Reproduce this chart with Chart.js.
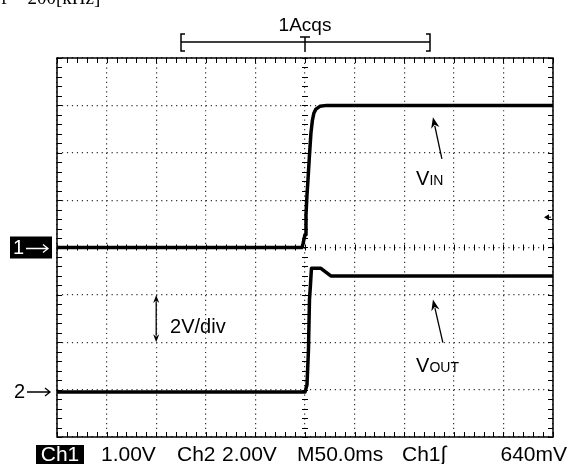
<!DOCTYPE html>
<html>
<head>
<meta charset="utf-8">
<script src="https://cdn.jsdelivr.net/npm/chart.js@4.4.0/dist/chart.umd.min.js"></script>
<style>
  html, body { margin: 0; padding: 0; background: #fff; }
  #wrap { width: 570px; height: 464px; position: relative; }
</style>
</head>
<body>
<div id="wrap"><canvas id="scope" width="570" height="464"></canvas></div>
<script>
// Time base: milliseconds relative to the trigger point, 50 ms/div, 10 divisions
const msPerDiv = 50;
const timeMin = -250;
const timeMax = 250;

// Channel 1 (V_IN), 1.00 V/div, ground at the centre line
const ch1Time  = [-250, -3, -2, 0, 1, 2, 3, 4.5, 6, 7.5, 9, 11, 15, 22, 250];
const ch1Volts = [0, 0, 0.08, 0.27, 0.69, 1.11, 1.42, 1.95, 2.42, 2.69, 2.84, 2.92, 2.98, 3.0, 3.0];

// Channel 2 (V_OUT), 2.00 V/div, ground marker about three divisions below centre
const ch2Time  = [-250, 0, 2, 3.5, 4.5, 5.5, 6.5, 16, 26, 250];
const ch2Volts = [0, 0, 0.3, 1.78, 3.89, 4.52, 5.22, 5.22, 4.9, 4.9];

const ch1VoltsPerDiv = 1.0;
const ch2VoltsPerDiv = 2.0;
const ch1GroundDiv = 0;
const ch2GroundDiv = -3.05;
const triggerLevel = 0.64;   // volts on Ch1

// Readout line under the graticule
const readoutItems = [
  { text: '1.00V',   x: 101, align: 'left' },
  { text: 'Ch2',     x: 177, align: 'left' },
  { text: '2.00V',   x: 222, align: 'left' },
  { text: 'M50.0ms', x: 297, align: 'left' },
  { text: 'Ch1\u222B', x: 402, align: 'left' },
  { text: '640mV',   x: 567, align: 'right' }
];

const toPoints = (ts, vs) => ts.map((t, i) => ({ x: t, y: vs[i] }));

const SANS = '"Liberation Sans", Arial, sans-serif';

function arrow(ctx, x1, y1, x2, y2, head) {
  const ang = Math.atan2(y2 - y1, x2 - x1);
  ctx.beginPath();
  ctx.moveTo(x1, y1);
  ctx.lineTo(x2 - Math.cos(ang) * head * 0.8, y2 - Math.sin(ang) * head * 0.8);
  ctx.stroke();
  ctx.beginPath();
  ctx.moveTo(x2, y2);
  ctx.lineTo(x2 - head * Math.cos(ang) + head * 0.38 * Math.sin(ang),
             y2 - head * Math.sin(ang) - head * 0.38 * Math.cos(ang));
  ctx.lineTo(x2 - head * 0.7 * Math.cos(ang), y2 - head * 0.7 * Math.sin(ang));
  ctx.lineTo(x2 - head * Math.cos(ang) - head * 0.38 * Math.sin(ang),
             y2 - head * Math.sin(ang) + head * 0.38 * Math.cos(ang));
  ctx.closePath();
  ctx.fill();
}

// thin "→" used beside the channel number
function markerArrow(ctx, x1, x2, yy) {
  ctx.beginPath();
  ctx.moveTo(x1, yy); ctx.lineTo(x2, yy);
  ctx.moveTo(x2 - 5, yy - 4); ctx.lineTo(x2, yy); ctx.lineTo(x2 - 5, yy + 4);
  ctx.stroke();
}

const scopeDecor = {
  id: 'scopeDecor',
  beforeDatasetsDraw(chart) {
    const { ctx, chartArea: a, scales: { x, y } } = chart;
    const cx = x.getPixelForValue(0);
    const cy = y.getPixelForValue(0);
    ctx.save();
    ctx.strokeStyle = '#000';
    ctx.lineWidth = 1;
    ctx.beginPath();
    // minor ticks, five per division, on the frame and on the centre lines
    for (let t = timeMin; t <= timeMax + 1e-6; t += msPerDiv / 5) {
      const px = Math.round(x.getPixelForValue(t)) + 0.5;
      ctx.moveTo(px, a.top);    ctx.lineTo(px, a.top + 5);
      ctx.moveTo(px, a.bottom); ctx.lineTo(px, a.bottom - 5);
      ctx.moveTo(px, cy - 3);   ctx.lineTo(px, cy + 3);
    }
    for (let d = -4; d <= 4 + 1e-6; d += 0.2) {
      const py = Math.round(y.getPixelForValue(d * ch1VoltsPerDiv)) + 0.5;
      ctx.moveTo(a.left, py);  ctx.lineTo(a.left + 5, py);
      ctx.moveTo(a.right, py); ctx.lineTo(a.right - 5, py);
      ctx.moveTo(cx - 3, py);  ctx.lineTo(cx + 3, py);
    }
    ctx.stroke();
    ctx.restore();
  },
  afterDraw(chart) {
    const { ctx, chartArea: a, scales: { x, y } } = chart;
    const px = t => x.getPixelForValue(t);
    const pyDiv = d => y.getPixelForValue(d * ch1VoltsPerDiv);
    const cx = px(0);
    ctx.save();

    // graticule frame
    ctx.strokeStyle = '#000';
    ctx.lineWidth = 1.5;
    ctx.strokeRect(a.left, a.top, a.right - a.left, a.bottom - a.top);

    // caption above (runs off the top edge)
    ctx.fillStyle = '#000';
    ctx.font = '19px "Liberation Serif", serif';
    ctx.textBaseline = 'alphabetic';
    ctx.textAlign = 'left';
    ctx.fillText('f = 200[kHz]', 1, 4);

    // acquisition status and record bracket
    ctx.font = '19px ' + SANS;
    ctx.textAlign = 'center';
    ctx.fillText('1Acqs', cx, 31);
    const bl = 181, br = 430, by = 42;
    ctx.lineWidth = 1.5;
    ctx.beginPath();
    ctx.moveTo(bl + 4, 34); ctx.lineTo(bl, 34); ctx.lineTo(bl, 51); ctx.lineTo(bl + 4, 51);
    ctx.moveTo(br - 4, 34); ctx.lineTo(br, 34); ctx.lineTo(br, 51); ctx.lineTo(br - 4, 51);
    ctx.moveTo(bl, by); ctx.lineTo(br, by);
    ctx.moveTo(cx - 5, 37); ctx.lineTo(cx + 5, 37);
    ctx.moveTo(cx, 37); ctx.lineTo(cx, 52);
    ctx.stroke();

    // channel ground markers
    const g1 = pyDiv(ch1GroundDiv);
    ctx.fillStyle = '#000';
    ctx.fillRect(10, g1 - 11, 42, 22);
    ctx.fillStyle = '#fff';
    ctx.strokeStyle = '#fff';
    ctx.lineWidth = 1.3;
    ctx.font = '20px ' + SANS;
    ctx.textAlign = 'left';
    ctx.textBaseline = 'middle';
    ctx.fillText('1', 13, g1 + 1);
    markerArrow(ctx, 26, 48, g1 + 1);
    const g2 = pyDiv(ch2GroundDiv);
    ctx.fillStyle = '#000';
    ctx.strokeStyle = '#000';
    ctx.fillText('2', 14, g2);
    markerArrow(ctx, 27, 50, g2);

    // trigger level indicator on the right edge
    const ty = y.getPixelForValue(triggerLevel);
    ctx.beginPath();
    ctx.moveTo(a.right - 9, ty);
    ctx.lineTo(a.right - 4, ty - 3);
    ctx.lineTo(a.right - 4, ty + 3);
    ctx.closePath();
    ctx.fill();
    ctx.lineWidth = 1;
    ctx.beginPath();
    ctx.moveTo(a.right - 5, ty); ctx.lineTo(a.right - 2, ty);
    ctx.stroke();

    // signal labels with pointers
    ctx.lineWidth = 1.3;
    ctx.textBaseline = 'alphabetic';
    arrow(ctx, px(138), pyDiv(1.87), px(129), pyDiv(2.75), 11);
    arrow(ctx, px(139), pyDiv(-2.01), px(129), pyDiv(-1.1), 11);
    const sub = (main, small, t, d) => {
      ctx.font = '20px ' + SANS;
      ctx.fillText(main, px(t), pyDiv(d));
      const w = ctx.measureText(main).width;
      ctx.font = '14px ' + SANS;
      ctx.fillText(small, px(t) + w, pyDiv(d));
    };
    sub('V', 'IN', 112, 1.32);
    sub('V', 'OUT', 112, -2.62);

    // vertical scale annotation for Ch2
    const ax = px(-150);
    ctx.lineWidth = 1.3;
    arrow(ctx, ax, pyDiv(-1.5), ax, pyDiv(-1), 8);
    arrow(ctx, ax, pyDiv(-1.5), ax, pyDiv(-2), 8);
    ctx.font = '20px ' + SANS;
    ctx.fillText('2V/div', px(-136), pyDiv(-1.8));

    // readout line
    ctx.fillStyle = '#000';
    ctx.fillRect(36, 445, 48, 21);
    ctx.fillStyle = '#fff';
    ctx.font = '21px ' + SANS;
    ctx.textAlign = 'center';
    ctx.fillText('Ch1', 60, 461);
    ctx.fillStyle = '#000';
    readoutItems.forEach(it => {
      ctx.textAlign = it.align;
      ctx.fillText(it.text, it.x, 461);
    });

    ctx.restore();
  }
};

new Chart(document.getElementById('scope'), {
  type: 'line',
  data: {
    datasets: [
      {
        label: 'VIN',
        data: toPoints(ch1Time, ch1Volts),
        yAxisID: 'y',
        borderColor: '#000',
        borderWidth: 3.5,
        pointRadius: 0,
        tension: 0,
        borderJoinStyle: 'round'
      },
      {
        label: 'VOUT',
        data: toPoints(ch2Time, ch2Volts),
        yAxisID: 'y2',
        borderColor: '#000',
        borderWidth: 3.5,
        pointRadius: 0,
        tension: 0,
        borderJoinStyle: 'round'
      }
    ]
  },
  options: {
    responsive: false,
    animation: false,
    devicePixelRatio: 1,
    layout: { padding: { left: 57, top: 58, right: 17, bottom: 27 } },
    plugins: { legend: { display: false }, tooltip: { enabled: false } },
    scales: {
      x: {
        type: 'linear',
        min: timeMin,
        max: timeMax,
        ticks: { display: false, stepSize: msPerDiv },
        grid: { color: '#333', lineWidth: 1.2, drawTicks: false },
        border: { display: false, dash: [1.2, 3.54] }
      },
      y: {
        type: 'linear',
        min: (-4 - ch1GroundDiv) * ch1VoltsPerDiv,
        max: (4 - ch1GroundDiv) * ch1VoltsPerDiv,
        ticks: { display: false, stepSize: ch1VoltsPerDiv },
        grid: { color: '#333', lineWidth: 1.2, drawTicks: false },
        border: { display: false, dash: [1.2, 3.76] }
      },
      y2: {
        type: 'linear',
        display: false,
        min: (-4 - ch2GroundDiv) * ch2VoltsPerDiv,
        max: (4 - ch2GroundDiv) * ch2VoltsPerDiv,
        grid: { display: false }
      }
    }
  },
  plugins: [scopeDecor]
});
</script>
</body>
</html>
